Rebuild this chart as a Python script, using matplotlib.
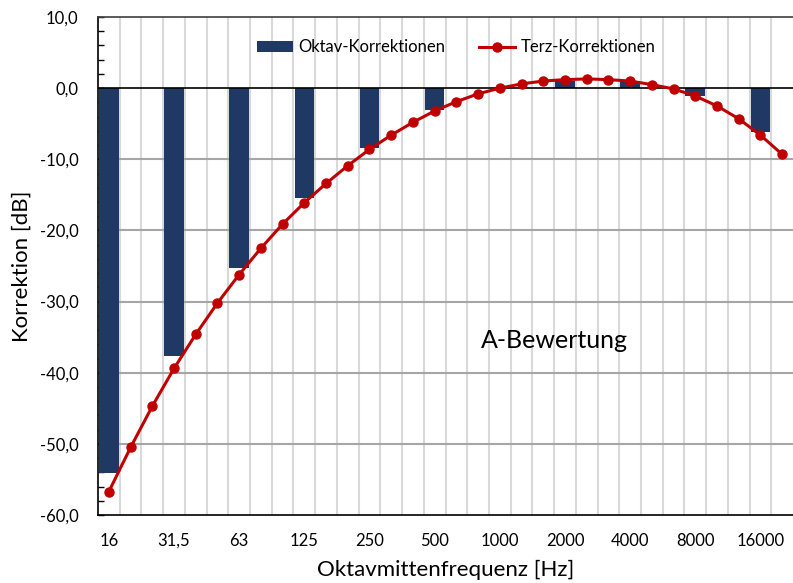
import numpy as np
import matplotlib
matplotlib.use('Agg')
import matplotlib.pyplot as plt
from matplotlib.ticker import FixedLocator, MultipleLocator, FuncFormatter

plt.rcParams['font.family'] = ['Lato', 'DejaVu Sans']

# Terzbaender 16 Hz .. 20 kHz
terz_freq = [16, 20, 25, 31.5, 40, 50, 63, 80, 100, 125, 160, 200, 250, 315, 400,
             500, 630, 800, 1000, 1250, 1600, 2000, 2500, 3150, 4000, 5000, 6300,
             8000, 10000, 12500, 16000, 20000]
terz_korr = [-56.7, -50.5, -44.7, -39.4, -34.6, -30.2, -26.2, -22.5, -19.1, -16.1,
             -13.4, -10.9, -8.6, -6.6, -4.8, -3.2, -1.9, -0.8, 0.0, 0.6, 1.0, 1.2,
             1.3, 1.2, 1.0, 0.5, -0.1, -1.1, -2.5, -4.3, -6.6, -9.3]

oktav_labels = ['16', '31,5', '63', '125', '250', '500', '1000', '2000', '4000', '8000', '16000']
oktav_korr = [-54.1, -37.7, -25.3, -15.5, -8.4, -3.1, 0.0, 1.0, 1.0, -1.1, -6.2]

bar_color = '#1F3864'
line_color = '#C00000'

fig = plt.figure(figsize=(7.93, 5.83), dpi=100)
ax = fig.add_axes([0.1236, 0.1166, 0.8764, 0.8542])

x_terz = np.arange(len(terz_freq))
x_okt = x_terz[::3]

# grid
for k in range(len(terz_freq) - 1):
    ax.axvline(k + 0.5, color='#D9D9D9', lw=1.5, zorder=0)
for yv in range(-50, 0, 10):
    ax.axhline(yv, color='#A6A6A6', lw=1.5, zorder=0)

bars = ax.bar(x_okt, oktav_korr, width=0.9, color=bar_color, zorder=2)
ax.axhline(0, color='black', lw=1.2, zorder=3)
line, = ax.plot(x_terz, terz_korr, color=line_color, lw=2.2, marker='o', markersize=6.5,
                zorder=4)

ax.set_xlim(-0.5, len(terz_freq) - 0.5)
ax.set_ylim(-60, 10)

ax.xaxis.set_major_locator(FixedLocator(x_okt))
ax.set_xticklabels(oktav_labels)
ax.tick_params(axis='x', length=0, pad=13, labelsize=12)

ax.yaxis.set_major_locator(MultipleLocator(10))
ax.yaxis.set_minor_locator(MultipleLocator(2))
ax.yaxis.set_major_formatter(FuncFormatter(lambda v, p: f'{v:.1f}'.replace('.', ',')))
ax.tick_params(axis='y', which='major', direction='in', length=4, width=1, pad=14, labelsize=12)
ax.tick_params(axis='y', which='minor', direction='in', length=4, width=1)

ax.spines['right'].set_visible(False)
ax.spines['top'].set_color('#404040')
ax.spines['top'].set_linewidth(1.2)
ax.spines['left'].set_linewidth(1.2)
ax.spines['bottom'].set_linewidth(1.2)

ax.set_xlabel('Oktavmittenfrequenz [Hz]', fontsize=16, labelpad=8)
ax.set_ylabel('Korrektion [dB]', fontsize=16, labelpad=6)

ax.text(0.656, 0.351, 'A-Bewertung', transform=ax.transAxes, fontsize=18, ha='center', va='center')

ax.legend([bars, line], ['Oktav-Korrektionen', 'Terz-Korrektionen'],
          loc='upper center', bbox_to_anchor=(0.515, 0.985), ncol=2, frameon=False,
          fontsize=12, handlelength=2.2, columnspacing=2.0, handletextpad=0.3)

fig.savefig('out.png', dpi=100)
